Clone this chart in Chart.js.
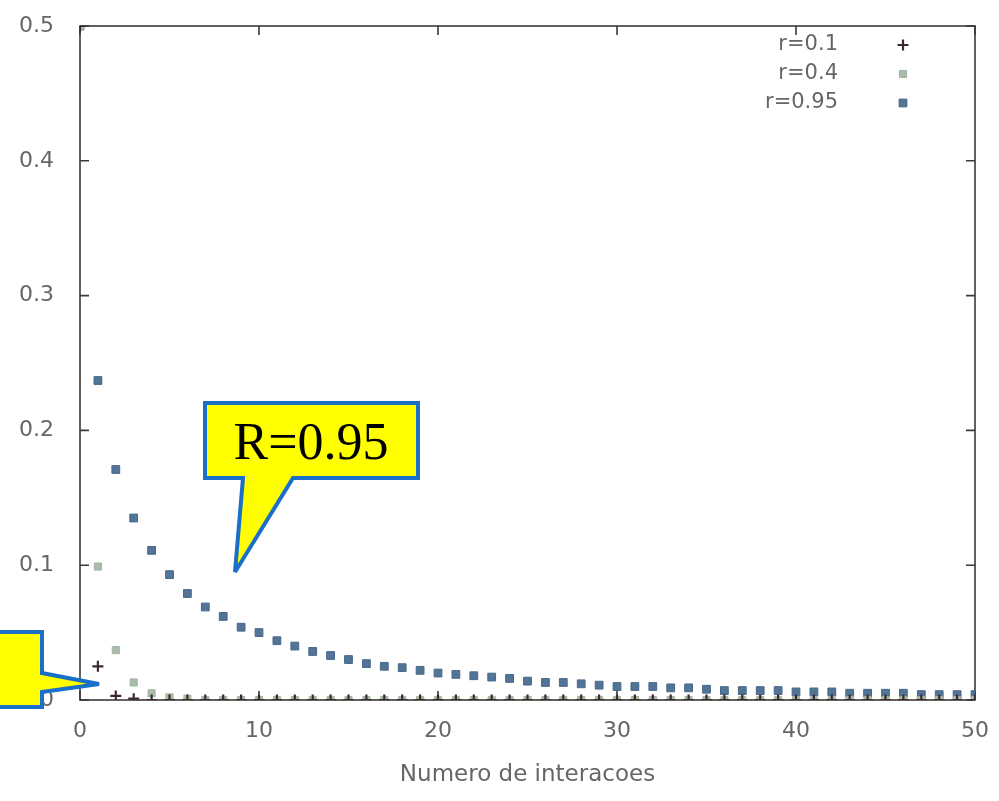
<!DOCTYPE html>
<html>
<head>
<meta charset="utf-8">
<title>Numero de interacoes</title>
<script src="https://cdn.jsdelivr.net/npm/chart.js@4.4.0/dist/chart.umd.min.js"></script>
<style>
  html, body { margin: 0; padding: 0; background: #fff; }
  #wrap { position: relative; width: 999px; height: 801px; overflow: hidden; }
  #grafico { filter: blur(0.6px); }
  #balloes { position: absolute; left: 0; top: 0; }
</style>
</head>
<body>
<div id="wrap">
  <canvas id="grafico" width="999" height="801" style="width:999px;height:801px"></canvas>
  <svg id="balloes" width="999" height="801">
    <path d="M205,403 L418,403 L418,478 L293,478 L235,572 L243,478 L205,478 Z"
          fill="#ffff00" stroke="#1a6fc8" stroke-width="4" stroke-linejoin="miter"/>
    <text x="311" y="459" text-anchor="middle" font-family="'Liberation Serif', serif" font-size="52" fill="#000">R=0.95</text>
    <path d="M-10,632 L42,632 L42,673 L99,684 L42,692 L42,707 L-10,707 Z"
          fill="#ffff00" stroke="#1a6fc8" stroke-width="4" stroke-linejoin="miter"/>
  </svg>
</div>
<script>
// ------------------------------------------------------------
// Dados (x = iteracao, y = valor)
// ------------------------------------------------------------
const iteracoes = [0, 1, 2, 3, 4, 5, 6, 7, 8, 9, 10, 11, 12, 13, 14, 15, 16, 17, 18, 19, 20,
  21, 22, 23, 24, 25, 26, 27, 28, 29, 30, 31, 32, 33, 34, 35, 36, 37, 38, 39, 40,
  41, 42, 43, 44, 45, 46, 47, 48, 49, 50];

const r01 = [0.5, 0.025, 0.003, 0.001, 0, 0, 0, 0, 0, 0, 0, 0, 0, 0, 0, 0, 0, 0, 0, 0, 0,
  0, 0, 0, 0, 0, 0, 0, 0, 0, 0, 0, 0, 0, 0, 0, 0, 0, 0, 0, 0,
  0, 0, 0, 0, 0, 0, 0, 0, 0, 0];

const r04 = [0.5, 0.099, 0.037, 0.013, 0.005, 0.002, 0.001, 0, 0, 0, 0, 0, 0, 0, 0, 0, 0, 0, 0, 0, 0,
  0, 0, 0, 0, 0, 0, 0, 0, 0, 0, 0, 0, 0, 0, 0, 0, 0, 0, 0, 0,
  0, 0, 0, 0, 0, 0, 0, 0, 0, 0];

const r095 = [0.5, 0.237, 0.171, 0.135, 0.111, 0.093, 0.079, 0.069, 0.062, 0.054, 0.050,
  0.044, 0.040, 0.036, 0.033, 0.030, 0.027, 0.025, 0.024, 0.022, 0.020,
  0.019, 0.018, 0.017, 0.016, 0.014, 0.013, 0.013, 0.012, 0.011, 0.010,
  0.010, 0.010, 0.009, 0.009, 0.008, 0.007, 0.007, 0.007, 0.007, 0.006,
  0.006, 0.006, 0.005, 0.005, 0.005, 0.005, 0.004, 0.004, 0.004, 0.004];

const rotulosSeries = ['r=0.1', 'r=0.4', 'r=0.95'];
const ticksX = [0, 10, 20, 30, 40, 50];
const rotulosY = ['0', '0.1', '0.2', '0.3', '0.4', '0.5'];

const fonteEixo = "'DejaVu Sans', sans-serif";
const corTexto = '#666';
const corEixo = '#3a3a3a';

function pontos(valores) {
  return iteracoes.map((x, i) => ({ x: x, y: valores[i] }));
}

// ------------------------------------------------------------
// Moldura estilo gnuplot: caixa completa com marcas internas
// ------------------------------------------------------------
const molduraPlugin = {
  id: 'moldura',
  beforeDatasetsDraw(chart) {
    const { ctx, chartArea: a, scales } = chart;
    const tam = 9;
    ctx.save();
    ctx.strokeStyle = corEixo;
    ctx.lineWidth = 1.6;
    ctx.strokeRect(a.left, a.top, a.right - a.left, a.bottom - a.top);
    ctx.beginPath();
    scales.x.ticks.forEach(t => {
      const px = scales.x.getPixelForValue(t.value);
      ctx.moveTo(px, a.bottom); ctx.lineTo(px, a.bottom - tam);
      ctx.moveTo(px, a.top); ctx.lineTo(px, a.top + tam);
    });
    scales.y.ticks.forEach(t => {
      const py = scales.y.getPixelForValue(t.value);
      ctx.moveTo(a.left, py); ctx.lineTo(a.left + tam, py);
      ctx.moveTo(a.right, py); ctx.lineTo(a.right - tam, py);
    });
    ctx.stroke();
    ctx.restore();
  }
};

// ------------------------------------------------------------
// Legenda no canto superior direito (texto, depois o marcador)
// ------------------------------------------------------------
const legendaPlugin = {
  id: 'legendaGnuplot',
  afterDraw(chart) {
    const { ctx } = chart;
    ctx.save();
    ctx.font = "21px " + fonteEixo;
    ctx.textAlign = 'right';
    ctx.textBaseline = 'middle';
    chart.data.datasets.forEach((ds, i) => {
      const y = 45 + 29 * i;
      ctx.fillStyle = corTexto;
      ctx.fillText(ds.label, 838, y);
      ctx.strokeStyle = ds.borderColor;
      ctx.fillStyle = ds.backgroundColor;
      ctx.lineWidth = ds.borderWidth;
      Chart.helpers.drawPoint(ctx, {
        pointStyle: ds.pointStyle,
        radius: ds.pointRadius,
        borderWidth: ds.borderWidth,
        rotation: 0
      }, 903, y);
    });
    ctx.restore();
  }
};

new Chart(document.getElementById('grafico'), {
  type: 'scatter',
  data: {
    datasets: [
      {
        label: rotulosSeries[0],
        data: pontos(r01),
        pointStyle: 'cross',
        pointRadius: 5.5,
        borderWidth: 2.2,
        borderColor: '#3e2a2a',
        backgroundColor: '#3e2a2a'
      },
      {
        label: rotulosSeries[1],
        data: pontos(r04),
        pointStyle: 'rect',
        pointRadius: 5,
        borderWidth: 1,
        borderColor: '#9fb59f',
        backgroundColor: '#a9bca9'
      },
      {
        label: rotulosSeries[2],
        data: pontos(r095),
        pointStyle: 'rect',
        pointRadius: 5.5,
        borderWidth: 1,
        borderColor: '#476888',
        backgroundColor: '#527496'
      }
    ]
  },
  options: {
    responsive: false,
    animation: false,
    events: [],
    layout: { padding: { left: 0, top: 26, right: 24, bottom: 0 } },
    plugins: {
      legend: { display: false },
      tooltip: { enabled: false }
    },
    scales: {
      x: {
        type: 'linear',
        min: 0,
        max: 50,
        afterBuildTicks: s => { s.ticks = ticksX.map(v => ({ value: v })); },
        ticks: {
          color: corTexto,
          padding: 18,
          font: { family: fonteEixo, size: 22 }
        },
        grid: { display: false, drawTicks: false },
        border: { display: false },
        title: {
          display: true,
          text: 'Numero de interacoes',
          color: corTexto,
          font: { family: fonteEixo, size: 23 },
          padding: { top: 0, bottom: 12 }
        },
        afterFit: s => {
          s.height = 101;
          s.paddingLeft = 0;
          s.paddingRight = 0;
        }
      },
      y: {
        type: 'linear',
        min: 0,
        max: 0.5,
        ticks: {
          stepSize: 0.1,
          color: corTexto,
          padding: 26,
          font: { family: fonteEixo, size: 22 },
          callback: (v, i) => rotulosY[i]
        },
        grid: { display: false, drawTicks: false },
        border: { display: false },
        afterFit: s => {
          s.width = 80;
          s.paddingTop = 0;
          s.paddingBottom = 0;
        }
      }
    }
  },
  plugins: [molduraPlugin, legendaPlugin]
});
</script>
</body>
</html>
